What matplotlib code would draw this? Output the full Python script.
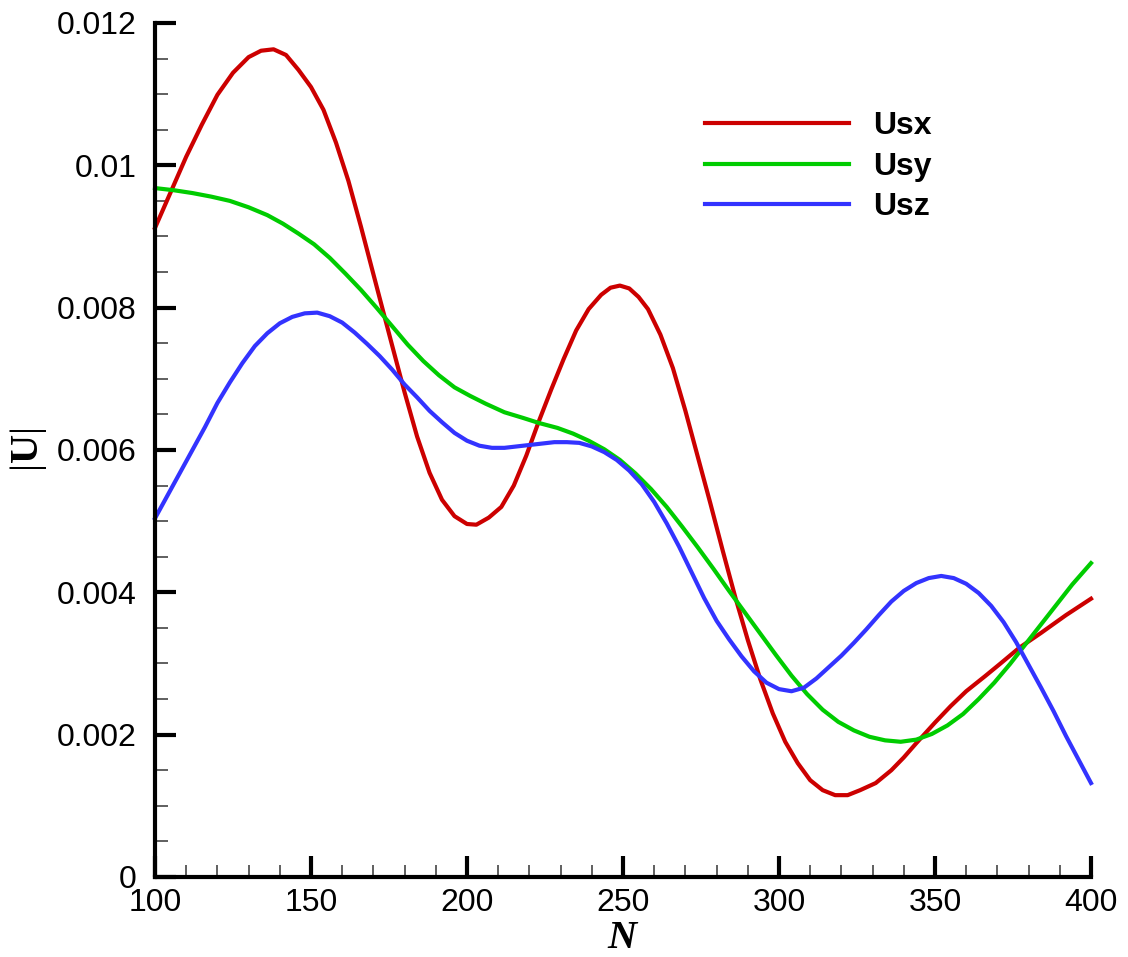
import matplotlib
matplotlib.use("Agg")
import matplotlib.pyplot as plt
from matplotlib.ticker import MultipleLocator

plt.rcParams["font.family"] = ["Liberation Sans", "DejaVu Sans"]
plt.rcParams["mathtext.fontset"] = "custom"
plt.rcParams["mathtext.rm"] = "Liberation Serif"
plt.rcParams["mathtext.it"] = "Liberation Serif:italic:bold"
plt.rcParams["mathtext.bf"] = "Liberation Serif:bold"

# values (U in units of 1e-3)
n_usx = [100, 105, 110, 115, 120, 125, 130, 134, 138, 142, 146, 150, 154, 158, 162,
         166, 170, 173, 176, 180, 184, 188, 192, 196, 200, 203, 207, 211, 215, 219,
         223, 227, 231, 235, 239, 243, 246, 249, 252, 255, 258, 262, 266, 270, 274,
         278, 282, 286, 290, 294, 298, 302, 306, 310, 314, 318, 322, 326, 331, 336,
         340, 344, 350, 355, 360, 366, 371, 377, 384, 392, 400]
usx = [9.12, 9.62, 10.12, 10.57, 10.99, 11.30, 11.52, 11.61, 11.63, 11.55, 11.34, 11.10,
       10.78, 10.32, 9.78, 9.14, 8.47, 7.97, 7.47, 6.81, 6.19, 5.68, 5.30, 5.07, 4.96,
       4.95, 5.05, 5.20, 5.50, 5.92, 6.40, 6.85, 7.28, 7.68, 7.98, 8.18, 8.28, 8.31,
       8.27, 8.15, 7.98, 7.62, 7.15, 6.55, 5.90, 5.25, 4.58, 3.93, 3.33, 2.78, 2.30,
       1.90, 1.60, 1.36, 1.22, 1.15, 1.15, 1.22, 1.32, 1.50, 1.68, 1.88, 2.17, 2.40,
       2.61, 2.82, 3.00, 3.22, 3.43, 3.68, 3.91]

n_usy = [100, 106, 112, 118, 124, 130, 136, 141, 146, 151, 156, 161, 166, 171, 176,
         181, 186, 191, 196, 201, 206, 212, 218, 223, 229, 234, 239, 244, 249, 254,
         259, 264, 269, 274, 279, 284, 289, 294, 299, 304, 309, 314, 319, 324, 329,
         334, 339, 344, 349, 354, 359, 364, 369, 374, 379, 384, 389, 394, 400]
usy = [9.68, 9.65, 9.61, 9.56, 9.50, 9.41, 9.30, 9.18, 9.04, 8.89, 8.70, 8.48, 8.25,
       8.00, 7.74, 7.48, 7.25, 7.05, 6.88, 6.76, 6.65, 6.53, 6.45, 6.38, 6.31, 6.23,
       6.13, 6.01, 5.86, 5.67, 5.45, 5.20, 4.92, 4.63, 4.33, 4.02, 3.72, 3.42, 3.12,
       2.83, 2.57, 2.35, 2.18, 2.06, 1.97, 1.92, 1.90, 1.93, 2.01, 2.13, 2.29, 2.50,
       2.73, 2.99, 3.27, 3.55, 3.83, 4.11, 4.41]

n_usz = [100, 104, 108, 112, 116, 120, 124, 128, 132, 136, 140, 144, 148, 152, 156,
         160, 164, 168, 172, 176, 180, 184, 188, 192, 196, 200, 204, 208, 212, 216,
         220, 224, 228, 232, 236, 240, 244, 248, 252, 256, 260, 264, 268, 272, 276,
         280, 284, 288, 292, 296, 300, 304, 308, 312, 316, 320, 324, 328, 332, 336,
         340, 344, 348, 352, 356, 360, 364, 368, 372, 376, 380, 384, 388, 392, 396, 400]
usz = [5.04, 5.36, 5.68, 6.00, 6.32, 6.66, 6.95, 7.22, 7.46, 7.64, 7.78, 7.87, 7.92,
       7.93, 7.88, 7.79, 7.65, 7.49, 7.32, 7.13, 6.92, 6.74, 6.55, 6.39, 6.24, 6.13,
       6.06, 6.03, 6.03, 6.05, 6.07, 6.09, 6.11, 6.11, 6.10, 6.05, 5.97, 5.86, 5.71,
       5.52, 5.27, 4.97, 4.64, 4.28, 3.92, 3.60, 3.34, 3.10, 2.89, 2.73, 2.64, 2.61,
       2.66, 2.79, 2.95, 3.11, 3.29, 3.48, 3.68, 3.87, 4.02, 4.13, 4.20, 4.23, 4.20,
       4.12, 3.99, 3.81, 3.58, 3.30, 2.98, 2.66, 2.33, 1.98, 1.65, 1.32]

labels = ["Usx", "Usy", "Usz"]
colors = ["#cc0000", "#00cc00", "#3333ff"]

fig = plt.figure(figsize=(11.28, 9.57), dpi=100)
ax = fig.add_axes([0.1374, 0.0836, 0.8298, 0.8924])

ax.plot(n_usx, [v * 1e-3 for v in usx], color=colors[0], lw=3, label=labels[0], clip_on=False)
ax.plot(n_usy, [v * 1e-3 for v in usy], color=colors[1], lw=3, label=labels[1], clip_on=False)
ax.plot(n_usz, [v * 1e-3 for v in usz], color=colors[2], lw=3, label=labels[2], clip_on=False)

ax.set_xlim(100, 400)
ax.set_ylim(0, 0.012)

ax.spines["top"].set_visible(False)
ax.spines["right"].set_visible(False)
ax.spines["left"].set_linewidth(3)
ax.spines["bottom"].set_linewidth(3)

ax.xaxis.set_major_locator(MultipleLocator(50))
ax.xaxis.set_minor_locator(MultipleLocator(10))
ax.yaxis.set_minor_locator(MultipleLocator(0.0005))
ax.set_yticks([0, 0.002, 0.004, 0.006, 0.008, 0.01, 0.012])
ax.set_yticklabels(["0", "0.002", "0.004", "0.006", "0.008", "0.01", "0.012"])

ax.tick_params(which="major", direction="in", length=15, width=3, labelsize=23, pad=8)
ax.tick_params(which="minor", direction="in", length=9, width=1.2, color="#444444")
ax.tick_params(axis="y", which="major", pad=13)

ax.set_xlabel(r"$N$", fontsize=29, labelpad=0)
ax.set_ylabel(r"$|\mathbf{U}|$", fontsize=29, labelpad=6)

leg = ax.legend(loc="upper left", bbox_to_anchor=(0.557, 0.93), frameon=False,
                handlelength=4.5, handletextpad=0.75, labelspacing=0.32,
                prop={"size": 23, "weight": "bold"})

plt.savefig("out.png", dpi=100)
